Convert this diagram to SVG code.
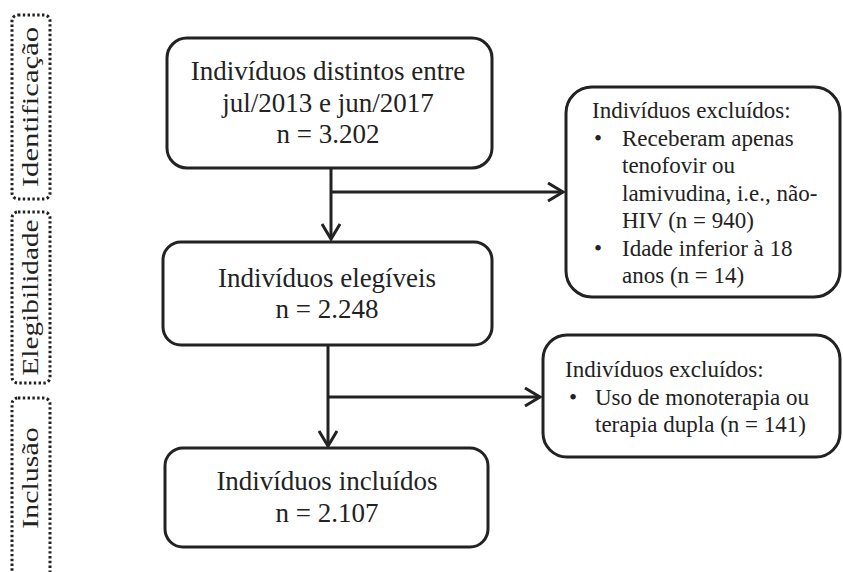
<svg xmlns="http://www.w3.org/2000/svg" width="843" height="572" viewBox="0 0 843 572">
<defs>
<style>
.box{fill:#fff;stroke:#222;stroke-width:3}
.stage{fill:none;stroke:#222;stroke-width:3;stroke-dasharray:2.4 2.4}
.main{font-family:"Liberation Serif","Times New Roman",serif;font-size:27px;fill:#222;text-anchor:middle}
.ex{font-family:"Liberation Serif","Times New Roman",serif;font-size:23px;fill:#222}
.st{font-family:"Liberation Serif","Times New Roman",serif;font-size:24px;fill:#222;text-anchor:middle}
.ln{fill:none;stroke:#222;stroke-width:3}
</style>
<marker id="arr" viewBox="0 0 20 20" refX="17" refY="10" markerWidth="20" markerHeight="20" markerUnits="userSpaceOnUse" orient="auto">
<path d="M2,1 L17,10 L2,19" fill="none" stroke="#222" stroke-width="3"/>
</marker>
</defs>
<g id="stage-identificacao">
<rect class="stage" x="12" y="15" width="38" height="184" rx="6"/>
<text class="st" transform="translate(38,107) rotate(-90) scale(1.28,1)">Identificação</text>
</g>
<g id="stage-elegibilidade">
<rect class="stage" x="12" y="212" width="38" height="171" rx="6"/>
<text class="st" transform="translate(38,297.5) rotate(-90) scale(1.22,1)">Elegibilidade</text>
</g>
<g id="stage-inclusao">
<rect class="stage" x="12" y="398" width="38" height="190" rx="6"/>
<text class="st" transform="translate(38,478) rotate(-90) scale(1.25,1)">Inclusão</text>
</g>
<g id="connectors">
<path class="ln" d="M331,168 V239" marker-end="url(#arr)"/>
<path class="ln" d="M331,192 H563" marker-end="url(#arr)"/>
<path class="ln" d="M328,345 V446" marker-end="url(#arr)"/>
<path class="ln" d="M328,397 H540" marker-end="url(#arr)"/>
</g>
<g id="n-distintos">
<rect class="box" x="167" y="38" width="325" height="130" rx="20"/>
<text class="main" x="328" y="80">Indivíduos distintos entre</text>
<text class="main" x="328" y="112">jul/2013 e jun/2017</text>
<text class="main" x="328" y="143">n = 3.202</text>
</g>
<g id="n-elegiveis">
<rect class="box" x="163" y="242" width="329" height="103" rx="18"/>
<text class="main" x="327" y="287">Indivíduos elegíveis</text>
<text class="main" x="327" y="318">n = 2.248</text>
</g>
<g id="n-incluidos">
<rect class="box" x="165" y="448" width="323" height="99" rx="18"/>
<text class="main" x="327" y="490">Indivíduos incluídos</text>
<text class="main" x="327" y="522">n = 2.107</text>
</g>
<g id="n-excluidos1">
<rect class="box" x="566" y="87" width="274" height="210" rx="26"/>
<text class="ex" x="592" y="118">Indivíduos excluídos:</text>
<text class="ex" x="594" y="145.5">•</text>
<text class="ex" x="622" y="145.5">Receberam apenas</text>
<text class="ex" x="622" y="173">tenofovir ou</text>
<text class="ex" x="622" y="200.5">lamivudina, i.e., não-</text>
<text class="ex" x="622" y="228">HIV (n = 940)</text>
<text class="ex" x="594" y="255.5">•</text>
<text class="ex" x="622" y="255.5">Idade inferior à 18</text>
<text class="ex" x="622" y="283">anos (n = 14)</text>
</g>
<g id="n-excluidos2">
<rect class="box" x="543" y="335" width="297" height="122" rx="24"/>
<text class="ex" x="565" y="377">Indivíduos excluídos:</text>
<text class="ex" x="569" y="405">•</text>
<text class="ex" x="595" y="405">Uso de monoterapia ou</text>
<text class="ex" x="595" y="432">terapia dupla (n = 141)</text>
</g>
</svg>
